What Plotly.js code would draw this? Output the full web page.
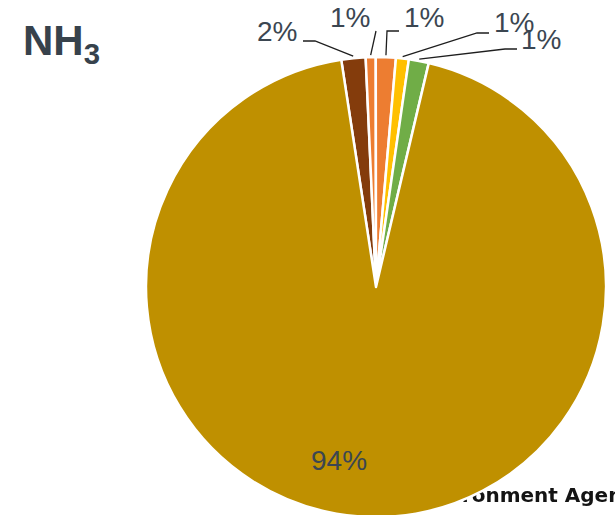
<!DOCTYPE html>
<html>
<head>
<meta charset="utf-8">
<script src="https://cdn.plot.ly/plotly-3.0.1.min.js"></script>
<style>
  html, body { margin: 0; padding: 0; width: 615px; height: 515px; overflow: hidden; background: #ffffff; }
  #wrap { position: relative; width: 615px; height: 515px; overflow: hidden; }
  #credit { position: absolute; left: 414px; top: 483px; font: bold 20px "DejaVu Sans", sans-serif;
            color: #141414; white-space: nowrap; line-height: 25px; filter: blur(0.4px); }
  #chart { position: absolute; left: 0; top: 0; width: 615px; height: 520px; }
</style>
</head>
<body>
<div id="wrap">
  <div id="credit">Environment Agency</div>
  <div id="chart"></div>
</div>
<script>
// Share of ammonia (NH3) emissions by source, percent
const sources = ['Waste', 'Industrial processes', 'Energy', 'Road transport', 'Other', 'Agriculture'];
const shares = [1.7, 0.7, 1.4, 0.9, 1.4, 93.9];
const sliceColors = ['#843C0C', '#ED7D31', '#ED7D31', '#FFC000', '#70AD47', '#BF9000'];

// Label placement in page pixels: text centre, plus the elbow and end of its leader line.
// A null leader means the label sits inside its slice.
const labelPlacement = [
  { tx: 277, ty: 31, elbow: [315, 41], end: [303, 41] },
  { tx: 350, ty: 18, elbow: [376, 31], end: [376, 31] },
  { tx: 424, ty: 18, elbow: [387, 31], end: [399, 31] },
  { tx: 514, ty: 23, elbow: [477, 33], end: [489, 33] },
  { tx: 541, ty: 39, elbow: [505, 49], end: [517, 49] },
  { tx: 339, ty: 460, elbow: null, end: null }
];

const labelColor = '#3B4651';
const labelFont = { family: 'Liberation Sans, Arial, sans-serif', size: 28, color: labelColor };

const W = 615, H = 520;
const margin = { l: 146, r: 9, t: 57, b: 3 };
const plotW = W - margin.l - margin.r;
const plotH = H - margin.t - margin.b;
const rotation = -8.7;

// pie geometry follows from the plot area
const cx = margin.l + plotW / 2;
const cy = margin.t + plotH / 2;
const R = Math.min(plotW, plotH) / 2;

const px2x = px => (px - margin.l) / plotW;
const py2y = py => 1 - (py - margin.t) / plotH;

const total = shares.reduce((a, b) => a + b, 0);
const annotations = [];
const shapes = [];
let cum = 0;
shares.forEach((v, i) => {
  const mid = rotation + (cum + v / 2) / total * 360;
  cum += v;
  const p = labelPlacement[i];
  const pct = Math.round(v / total * 100) + '%';
  annotations.push({
    xref: 'paper', yref: 'paper',
    x: px2x(p.tx), y: py2y(p.ty),
    xanchor: 'center', yanchor: 'middle',
    text: pct, showarrow: false, font: labelFont
  });
  if (p.elbow) {
    const a = mid * Math.PI / 180;
    const ax = cx + (R + 2) * Math.sin(a);
    const ay = cy - (R + 2) * Math.cos(a);
    shapes.push({
      type: 'path', xref: 'paper', yref: 'paper',
      path: 'M ' + px2x(ax) + ' ' + py2y(ay) +
            ' L ' + px2x(p.elbow[0]) + ' ' + py2y(p.elbow[1]) +
            ' L ' + px2x(p.end[0]) + ' ' + py2y(p.end[1]),
      line: { color: '#1e1e1e', width: 1.3 }
    });
  }
});

const trace = {
  type: 'pie',
  labels: sources,
  values: shares,
  sort: false,
  direction: 'clockwise',
  rotation: rotation,
  marker: { colors: sliceColors, line: { color: '#ffffff', width: 2.5 } },
  textinfo: 'none',
  hoverinfo: 'label+percent',
  showlegend: false,
  domain: { x: [0, 1], y: [0, 1] }
};

const layout = {
  width: W,
  height: H,
  margin: margin,
  paper_bgcolor: 'rgba(0,0,0,0)',
  plot_bgcolor: 'rgba(0,0,0,0)',
  showlegend: false,
  annotations: annotations,
  shapes: shapes,
  title: {
    text: '<b>NH<sub>3</sub></b>',
    xref: 'container', yref: 'container',
    x: 23 / W, xanchor: 'left',
    y: 1 - 40 / H, yanchor: 'middle',
    font: { family: 'Liberation Sans, Arial, sans-serif', size: 42, color: '#37424C' }
  }
};

Plotly.newPlot('chart', [trace], layout, { displayModeBar: false, staticPlot: true });
</script>
</body>
</html>
